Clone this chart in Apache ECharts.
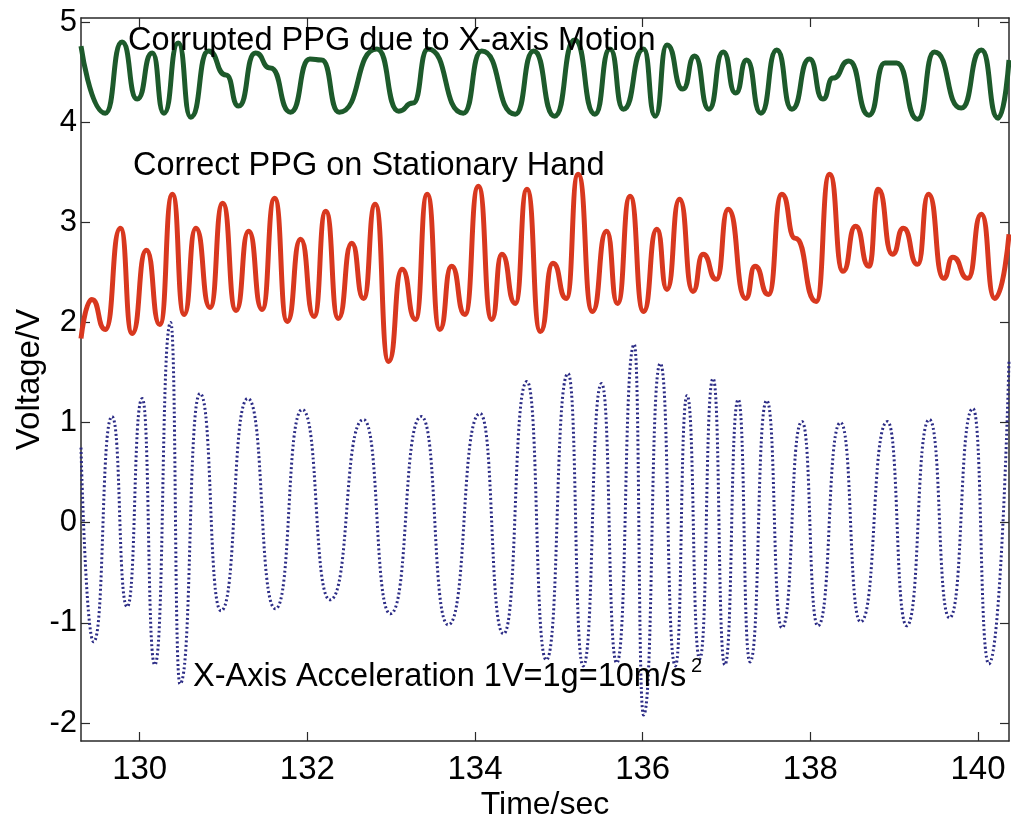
<!DOCTYPE html>
<html>
<head>
<meta charset="utf-8">
<script src="https://cdn.jsdelivr.net/npm/echarts@6/dist/echarts.min.js"></script>
<style>
html,body{margin:0;padding:0;background:#fff;}
#chart{width:1011px;height:821px;}
</style>
</head>
<body>
<div id="chart"></div>
<script>
// ---- data (time in s, voltage in V) ----
var xTicks = [130, 132, 134, 136, 138, 140];
var yTicks = [-2, -1, 0, 1, 2, 3, 4, 5];

var greenT = [129.30,129.59,129.79,129.97,130.15,130.29,130.46,130.61,130.82,131.03,131.18,131.38,131.56,131.80,132.03,132.17,132.38,132.83,133.09,133.26,133.44,133.86,134.08,134.48,134.70,134.95,135.19,135.43,135.61,135.77,136.01,136.15,136.29,136.48,136.62,136.79,136.96,137.11,137.24,137.41,137.60,137.78,137.99,138.15,138.27,138.46,138.70,138.89,139.03,139.28,139.48,139.80,140.04,140.24,140.37];
var greenV = [4.76,4.09,4.80,4.23,4.69,4.09,4.79,4.05,4.71,4.47,4.16,4.69,4.54,4.10,4.63,4.62,4.10,4.73,4.11,4.19,4.73,4.09,4.71,4.08,4.71,4.06,4.82,4.08,4.73,4.13,4.73,4.06,4.77,4.33,4.66,4.13,4.70,4.29,4.62,4.09,4.72,4.13,4.63,4.23,4.44,4.61,4.07,4.59,4.59,4.03,4.70,4.14,4.72,4.04,4.62];

var redT = [129.30,129.43,129.59,129.77,129.91,130.08,130.24,130.39,130.53,130.67,130.84,130.99,131.15,131.30,131.46,131.61,131.76,131.92,132.08,132.22,132.37,132.53,132.67,132.81,132.97,133.13,133.29,133.43,133.58,133.72,133.88,134.04,134.20,134.32,134.48,134.62,134.78,134.93,135.09,135.23,135.40,135.57,135.70,135.85,136.01,136.17,136.29,136.44,136.60,136.72,136.88,137.02,137.23,137.34,137.50,137.66,137.82,138.07,138.23,138.39,138.54,138.70,138.81,138.98,139.11,139.28,139.41,139.59,139.70,139.88,140.04,140.20,140.37];
var redV = [1.84,2.23,1.93,2.94,1.89,2.72,1.98,3.28,2.08,2.94,2.15,3.19,2.12,2.91,2.13,3.24,2.01,2.83,2.06,3.11,2.04,2.79,2.24,3.18,1.61,2.53,2.03,3.28,1.93,2.56,2.08,3.36,2.03,2.68,2.19,3.33,1.91,2.59,2.24,3.48,2.11,2.91,2.19,3.26,2.11,2.93,2.33,3.23,2.31,2.68,2.43,3.13,2.24,2.56,2.28,3.28,2.84,2.21,3.48,2.51,2.96,2.56,3.33,2.68,2.94,2.58,3.28,2.44,2.65,2.44,3.08,2.24,2.88];

var blueT = [129.30,129.45,129.67,129.85,130.03,130.18,130.37,130.48,130.72,130.97,131.29,131.62,131.94,132.27,132.67,132.99,133.36,133.68,134.06,134.34,134.62,134.85,135.11,135.29,135.51,135.69,135.90,136.01,136.21,136.39,136.53,136.68,136.84,136.98,137.14,137.28,137.48,137.66,137.90,138.09,138.36,138.60,138.92,139.15,139.42,139.66,139.94,140.13,140.37];
var blueV = [0.75,-1.19,1.06,-0.84,1.24,-1.42,2.00,-1.61,1.29,-0.88,1.24,-0.86,1.13,-0.77,1.03,-0.91,1.06,-1.02,1.09,-1.11,1.41,-1.37,1.49,-1.43,1.39,-1.40,1.78,-1.92,1.59,-1.43,1.27,-1.36,1.44,-1.42,1.23,-1.39,1.22,-1.05,1.01,-1.03,1.00,-0.99,1.01,-1.03,1.03,-0.95,1.14,-1.41,1.62];

var labelCorrupted = 'Corrupted PPG due to X-axis Motion';
var labelCorrect = 'Correct PPG on Stationary Hand';
var labelAccel = 'X-Axis Acceleration 1V=1g=10m/s';
var labelAccelSup = '2';
var xName = 'Time/sec';
var yName = 'Voltage/V';

function zip(t, v) { return t.map(function (x, i) { return [x, v[i]]; }); }

var FONT = '"Liberation Sans", Arial, sans-serif';
var X_MIN = 129.30, X_MAX = 140.37, Y_MIN = -2.18, Y_MAX = 5.04;
var AX = '#2a2a2a';

var chart = echarts.init(document.getElementById('chart'), null, {renderer: 'canvas'});

function xAxisDef(pos, showLabel) {
  return {
    type: 'value', position: pos, min: X_MIN, max: X_MAX,
    name: showLabel ? xName : '', nameLocation: 'middle', nameGap: 48, nameMoveOverlap: false,
    nameTextStyle: {fontFamily: FONT, fontSize: 32, color: '#000'},
    axisLine: {show: true, onZero: false, lineStyle: {color: AX, width: 1.5}},
    axisTick: {show: true, inside: true, length: 9, customValues: xTicks, lineStyle: {color: AX, width: 1.2}},
    axisLabel: {show: showLabel, customValues: xTicks, margin: 12, fontFamily: FONT, fontSize: 33, color: '#000'},
    splitLine: {show: false}
  };
}
function yAxisDef(pos, showLabel) {
  return {
    type: 'value', position: pos, min: Y_MIN, max: Y_MAX,
    name: showLabel ? yName : '', nameLocation: 'middle', nameGap: 35, nameMoveOverlap: false,
    nameTextStyle: {fontFamily: FONT, fontSize: 33, color: '#000'},
    axisLine: {show: true, onZero: false, lineStyle: {color: AX, width: 1.5}},
    axisTick: {show: true, inside: true, length: 9, customValues: yTicks, lineStyle: {color: AX, width: 1.2}},
    axisLabel: {show: showLabel, customValues: yTicks, margin: 4, fontFamily: FONT, fontSize: 31, color: '#000'},
    splitLine: {show: false}
  };
}

var option = {
  backgroundColor: '#fff',
  animation: false,
  grid: {left: 81, right: 2, top: 18, bottom: 80, containLabel: false, outerBoundsMode: 'none'},
  xAxis: [xAxisDef('bottom', true), xAxisDef('top', false)],
  yAxis: [yAxisDef('left', true), yAxisDef('right', false)],
  series: [
    {
      name: 'Corrupted PPG', type: 'line', data: zip(greenT, greenV),
      smooth: 0.6, smoothMonotone: 'x', showSymbol: false, clip: true,
      lineStyle: {color: '#1d5a2b', width: 5}
    },
    {
      name: 'Correct PPG', type: 'line', data: zip(redT, redV),
      smooth: 0.6, smoothMonotone: 'x', showSymbol: false, clip: true,
      lineStyle: {color: '#d8381f', width: 5}
    },
    {
      name: 'X-Axis Acceleration', type: 'line', data: zip(blueT, blueV),
      smooth: 0.6, smoothMonotone: 'x', showSymbol: false, clip: true,
      lineStyle: {color: '#2b2b85', width: 3, type: [2, 2.5]}
    }
  ],
  graphic: [
    {type: 'text', left: 128, top: 25, z: 100, style: {text: labelCorrupted, fontFamily: FONT, fontSize: 32.5, fill: '#000'}},
    {type: 'text', left: 133, top: 150, z: 100, style: {text: labelCorrect, fontFamily: FONT, fontSize: 32.5, fill: '#000'}},
    {type: 'text', left: 193, top: 661, z: 100, style: {text: labelAccel, fontFamily: FONT, fontSize: 32.5, fill: '#000'}},
    {type: 'text', left: 691, top: 656, z: 100, style: {text: labelAccelSup, fontFamily: FONT, fontSize: 20, fill: '#000'}}
  ]
};
chart.setOption(option);
</script>
</body>
</html>
